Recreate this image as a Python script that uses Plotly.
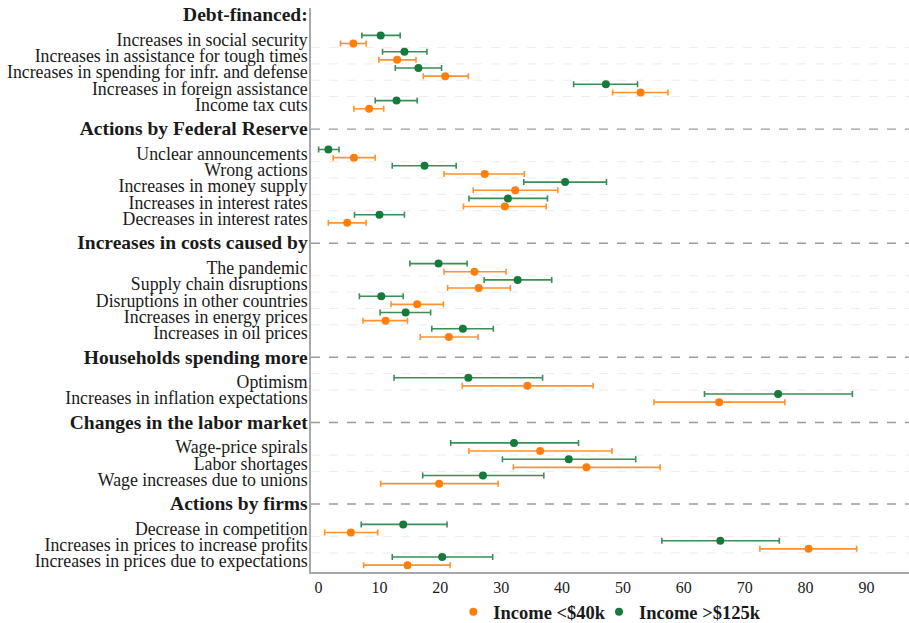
import plotly.graph_objects as go

# ---------------- data ----------------
group_titles = [
    "Debt-financed:",
    "Actions by Federal Reserve",
    "Increases in costs caused by",
    "Households spending more",
    "Changes in the labor market",
    "Actions by firms",
]
group_items = [
    ["Increases in social security", "Increases in assistance for tough times",
     "Increases in spending for infr. and defense", "Increases in foreign assistance",
     "Income tax cuts"],
    ["Unclear announcements", "Wrong actions", "Increases in money supply",
     "Increases in interest rates", "Decreases in interest rates"],
    ["The pandemic", "Supply chain disruptions", "Disruptions in other countries",
     "Increases in energy prices", "Increases in oil prices"],
    ["Optimism", "Increases in inflation expectations"],
    ["Wage-price spirals", "Labor shortages", "Wage increases due to unions"],
    ["Decrease in competition", "Increases in prices to increase profits",
     "Increases in prices due to expectations"],
]

low_mean = [5.7, 12.9, 20.8, 52.9, 8.3,
            5.8, 27.3, 32.3, 30.6, 4.7,
            25.6, 26.3, 16.2, 11.0, 21.4,
            34.3, 65.8,
            36.4, 44.0, 19.8,
            5.3, 80.5, 14.6]
low_lo = [3.6, 9.9, 17.2, 48.3, 5.8,
          2.4, 20.6, 25.4, 23.8, 1.6,
          20.6, 21.2, 11.9, 7.3, 16.7,
          23.6, 55.1,
          24.7, 32.0, 10.2,
          1.0, 72.5, 7.4]
low_hi = [7.8, 16.0, 24.6, 57.4, 10.7,
          9.3, 33.8, 39.3, 37.4, 7.8,
          30.8, 31.5, 20.5, 14.6, 26.2,
          45.1, 76.6,
          48.2, 56.1, 29.5,
          9.7, 88.4, 21.6]

high_mean = [10.2, 14.1, 16.4, 47.2, 12.8,
             1.6, 17.4, 40.5, 31.1, 10.0,
             19.7, 32.7, 10.3, 14.3, 23.7,
             24.6, 75.5,
             32.1, 41.1, 27.0,
             13.9, 66.0, 20.3]
high_lo = [7.1, 10.5, 12.6, 41.9, 9.3,
           0.0, 12.1, 33.7, 24.7, 5.9,
           15.0, 27.2, 6.7, 10.1, 18.6,
           12.4, 63.4,
           21.7, 30.2, 17.1,
           7.0, 56.4, 12.1]
high_hi = [13.4, 17.8, 20.2, 52.4, 16.2,
           3.35, 22.6, 47.3, 37.6, 14.1,
           24.4, 38.3, 13.9, 18.4, 28.7,
           36.8, 87.7,
           42.7, 52.1, 37.0,
           21.1, 75.7, 28.6]

x_ticks = [0, 10, 20, 30, 40, 50, 60, 70, 80, 90]

series_names = ["<b>Income &lt;$40k</b>", "<b>Income &gt;$125k</b>"]

# ---------------- layout positions ----------------
ORANGE = "#ff7f0e"
GREEN = "#187a3a"
FONT = "Liberation Serif"

header_pos = []
item_pos = []
tickvals, ticktext = [], []
faint = []
pos = 0.0
for title, items in zip(group_titles, group_items):
    header_pos.append(pos)
    tickvals.append(pos)
    ticktext.append('<span style="font-size:19.5px"><b>' + title + "</b></span>")
    first = pos + 1.5
    ips = [first + k for k in range(len(items))]
    for p, lab in zip(ips, items):
        item_pos.append(p)
        tickvals.append(p)
        ticktext.append(lab)
    faint += [p - 0.5 for p in ips[1:]]
    if len(items) == 2:
        faint.append(ips[0] - 0.5)
    pos = ips[-1] + 1.5

off = 0.25
y_low = [p + off for p in item_pos]
y_high = [p - off for p in item_pos]

fig = go.Figure()

fig.add_trace(go.Scatter(
    x=low_mean, y=y_low, mode="markers", name=series_names[0], legend="legend",
    marker=dict(color=ORANGE, size=8),
    error_x=dict(type="data", symmetric=False,
                 array=[h - m for h, m in zip(low_hi, low_mean)],
                 arrayminus=[m - l for m, l in zip(low_mean, low_lo)],
                 color="rgba(255,127,14,0.85)", thickness=1.6, width=3),
))
fig.add_trace(go.Scatter(
    x=high_mean, y=y_high, mode="markers", name=series_names[1], legend="legend2",
    marker=dict(color=GREEN, size=8),
    error_x=dict(type="data", symmetric=False,
                 array=[h - m for h, m in zip(high_hi, high_mean)],
                 arrayminus=[m - l for m, l in zip(high_mean, high_lo)],
                 color="rgba(24,122,58,0.85)", thickness=1.6, width=3),
))

shapes = []
for hp in header_pos[1:]:
    shapes.append(dict(type="line", xref="paper", x0=0, x1=1, yref="y", y0=hp, y1=hp,
                       line=dict(color="#9c9c9c", width=1.4, dash="dash"), layer="below"))
for fp in faint:
    shapes.append(dict(type="line", xref="paper", x0=0, x1=1, yref="y", y0=fp, y1=fp,
                       line=dict(color="#ececec", width=1, dash="dash"), layer="below"))

legend_style = dict(orientation="h", yanchor="middle", y=-0.0715, xanchor="left",
                    font=dict(family=FONT, size=18.5, color="#1a1a1a"),
                    itemwidth=30, bgcolor="rgba(0,0,0,0)")

fig.update_layout(
    width=909, height=623,
    margin=dict(l=311, r=0, t=8, b=51, autoexpand=False),
    paper_bgcolor="white", plot_bgcolor="white",
    font=dict(family=FONT, size=17, color="#1a1a1a"),
    shapes=shapes,
    showlegend=True,
    legend=dict(x=0.238, **legend_style),
    legend2=dict(x=0.4816, **legend_style),
    xaxis=dict(range=[-1.25, 97], tickvals=x_ticks, ticktext=[str(v) for v in x_ticks],
               showgrid=False, zeroline=False, showline=True, linecolor="#a8a8a8",
               linewidth=1.5, ticks="", tickfont=dict(size=16), automargin=False),
    yaxis=dict(range=[34.17, -0.43], tickvals=tickvals, ticktext=ticktext,
               showgrid=False, zeroline=False, showline=True, linecolor="#a8a8a8",
               linewidth=1.5, ticks="", tickfont=dict(size=17.8), automargin=False,
               ticklabelstandoff=-2, ticklabeloverflow="allow"),
)

# remove the default 8px page margin so the figure fills the window exactly
fig.write_html("out.html", config={"displayModeBar": False},
               post_script="document.body.style.margin='0';document.body.style.overflow='hidden';")
